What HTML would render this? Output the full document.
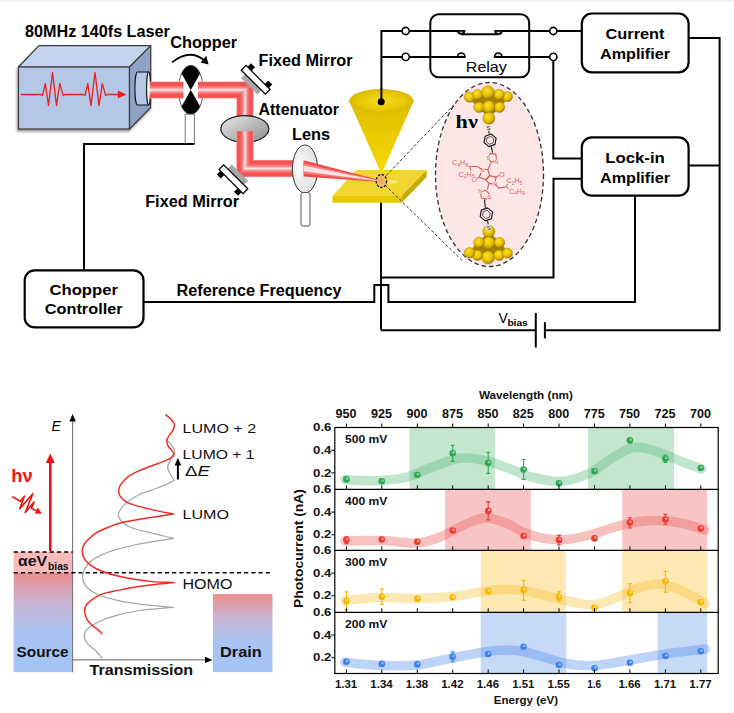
<!DOCTYPE html>
<html><head><meta charset="utf-8"><style>
html,body{margin:0;padding:0;background:#fff;}
svg{display:block;}
</style></head><body>
<svg width="734" height="713" viewBox="0 0 734 713">
<rect x="0" y="0" width="734" height="713" fill="#fff"/>
<rect x="0" y="0" width="734" height="1" fill="#efefef"/><rect x="0" y="1" width="734" height="1.5" fill="#f7f7f7"/>
<defs>
<linearGradient id="gSrc" x1="0" y1="0" x2="0" y2="1">
 <stop offset="0" stop-color="#ec8e8e"/><stop offset="0.3" stop-color="#c9b3d3"/><stop offset="0.6" stop-color="#a9c4f2"/><stop offset="1" stop-color="#a4c2f5"/>
</linearGradient>
<linearGradient id="gDrn" x1="0" y1="0" x2="0" y2="1">
 <stop offset="0" stop-color="#ec8e8e"/><stop offset="0.3" stop-color="#c9b3d3"/><stop offset="0.6" stop-color="#a9c4f2"/><stop offset="1" stop-color="#a4c2f5"/>
</linearGradient>
<linearGradient id="gAtt" x1="0" y1="0" x2="1" y2="1">
 <stop offset="0" stop-color="#e8e8e8"/><stop offset="1" stop-color="#8c8c8c"/>
</linearGradient>
<radialGradient id="gLens" cx="0.3" cy="0.45" r="0.7">
 <stop offset="0" stop-color="#ffffff"/><stop offset="0.45" stop-color="#ececec"/><stop offset="1" stop-color="#e2e2e2"/>
</radialGradient>
<radialGradient id="gTipTop" cx="0.5" cy="0.5" r="0.5">
 <stop offset="0" stop-color="#f6dc2a"/><stop offset="0.7" stop-color="#e8c800"/><stop offset="1" stop-color="#d9b800"/>
</radialGradient>
<linearGradient id="gCone" x1="0" y1="0" x2="0" y2="1">
 <stop offset="0" stop-color="#dcbc00"/><stop offset="1" stop-color="#f8dc00"/>
</linearGradient>
<linearGradient id="gFocus" x1="0" y1="0" x2="0" y2="1">
 <stop offset="0" stop-color="#f44f4f"/><stop offset="0.2" stop-color="#f45454"/><stop offset="0.45" stop-color="#fde3e3"/><stop offset="0.7" stop-color="#f46a6a"/><stop offset="1" stop-color="#f44f4f"/>
</linearGradient>
<radialGradient id="gGold" cx="0.42" cy="0.38" r="0.62">
 <stop offset="0" stop-color="#f8e23a"/><stop offset="0.5" stop-color="#ecc800"/><stop offset="0.8" stop-color="#d2a800"/><stop offset="1" stop-color="#8a6a10"/>
</radialGradient>
<radialGradient id="gGlow" cx="0.45" cy="0.5" r="0.55">
 <stop offset="0" stop-color="#f0a868"/><stop offset="0.6" stop-color="#f2b866"/><stop offset="1" stop-color="#f2cf50"/>
</radialGradient>
<filter id="bblur" x="-20%" y="-20%" width="140%" height="140%"><feGaussianBlur stdDeviation="0.6"/></filter>
<filter id="shadow" x="-10%" y="-10%" width="130%" height="130%"><feGaussianBlur in="SourceAlpha" stdDeviation="1.5"/><feOffset dx="-1.5" dy="1.5"/><feComponentTransfer><feFuncA type="linear" slope="0.45"/></feComponentTransfer><feMerge><feMergeNode/><feMergeNode in="SourceGraphic"/></feMerge></filter>
</defs>
<g filter="url(#shadow)">
<polygon points="18.5,67 39,45.7 150.7,45.7 129.5,67" fill="#c4d4ee" stroke="#3a3a3a" stroke-width="1.2" stroke-linejoin="round"/>
<rect x="18.5" y="67" width="111" height="62" fill="#b4c7e7" stroke="#3a3a3a" stroke-width="1.2"/>
<polygon points="129.5,67 150.7,45.7 150.7,107.5 129.5,129" fill="#8fa3c6" stroke="#3a3a3a" stroke-width="1.2" stroke-linejoin="round"/>
</g>
<path d="M137.5,72 L148.6,72 L148.6,105 L137.5,105 A2.6,16.5 0 0 1 137.5,72 Z" fill="#b4c7e7" stroke="#111" stroke-width="1.1"/>
<ellipse cx="148.6" cy="88.5" rx="2" ry="16.5" fill="#f4f6fb" stroke="#111" stroke-width="1.1"/>
<polyline points="21.00,94.50 40.50,94.50 42.50,95.40 45.30,83.70 48.50,105.50 52.50,72.50 56.50,105.50 59.80,83.30 63.10,95.40 65.00,94.50 83.00,94.50 85.00,95.40 87.80,83.70 91.00,105.50 95.00,72.50 99.00,105.50 102.30,83.30 105.60,95.40 107.50,94.50 119.00,94.50" fill="none" stroke="#ee1c1c" stroke-width="1.3" stroke-linejoin="round"/>
<polygon points="126.4,94.5 117.8,90.6 117.8,98.4" fill="#ee1c1c"/>
<ellipse cx="190.8" cy="89.9" rx="12.4" ry="24.5" fill="#fff" stroke="#444" stroke-width="0.9"/>
<clipPath id="cpCh"><ellipse cx="190.8" cy="89.9" rx="12.4" ry="24.5"/></clipPath>
<g clip-path="url(#cpCh)"><polygon points="190.8,89.9 172.8,57.9 208.8,57.9" fill="#000"/><polygon points="190.8,89.9 172.8,121.9 208.8,121.9" fill="#000"/></g>
<rect x="185.2" y="114.2" width="9.2" height="29.5" fill="#fff" stroke="#777" stroke-width="1"/>
<path d="M172,62.4 Q189.6,48.6 203.5,59.8" fill="none" stroke="#000" stroke-width="1.8"/>
<polygon points="208.6,64.6 200.6,62.6 206.2,55.8" fill="#000"/>
<linearGradient id="bm1" gradientUnits="userSpaceOnUse" x1="150.00" y1="81.50" x2="150.00" y2="98.50"><stop offset="0.00" stop-color="#f89a9a"/><stop offset="0.07" stop-color="#f44f4f"/><stop offset="0.22" stop-color="#f45454"/><stop offset="0.36" stop-color="#f78585"/><stop offset="0.50" stop-color="#fde3e3"/><stop offset="0.64" stop-color="#f78585"/><stop offset="0.78" stop-color="#f45454"/><stop offset="0.93" stop-color="#f44f4f"/><stop offset="1.00" stop-color="#f89a9a"/></linearGradient><polygon points="150.00,98.50 183.50,98.50 183.50,81.50 150.00,81.50" fill="url(#bm1)"/>
<linearGradient id="bm2" gradientUnits="userSpaceOnUse" x1="198.00" y1="81.50" x2="198.00" y2="98.50"><stop offset="0.00" stop-color="#f89a9a"/><stop offset="0.07" stop-color="#f44f4f"/><stop offset="0.22" stop-color="#f45454"/><stop offset="0.36" stop-color="#f78585"/><stop offset="0.50" stop-color="#fde3e3"/><stop offset="0.64" stop-color="#f78585"/><stop offset="0.78" stop-color="#f45454"/><stop offset="0.93" stop-color="#f44f4f"/><stop offset="1.00" stop-color="#f89a9a"/></linearGradient><polygon points="198.00,98.50 253.50,98.50 253.50,81.50 198.00,81.50" fill="url(#bm2)"/><linearGradient id="bm3" gradientUnits="userSpaceOnUse" x1="253.50" y1="90.00" x2="236.50" y2="90.00"><stop offset="0.00" stop-color="#f89a9a"/><stop offset="0.07" stop-color="#f44f4f"/><stop offset="0.22" stop-color="#f45454"/><stop offset="0.36" stop-color="#f78585"/><stop offset="0.50" stop-color="#fde3e3"/><stop offset="0.64" stop-color="#f78585"/><stop offset="0.78" stop-color="#f45454"/><stop offset="0.93" stop-color="#f44f4f"/><stop offset="1.00" stop-color="#f89a9a"/></linearGradient><polygon points="236.50,98.50 236.50,177.00 253.50,177.00 253.50,81.50" fill="url(#bm3)"/><linearGradient id="bm4" gradientUnits="userSpaceOnUse" x1="245.00" y1="160.00" x2="245.00" y2="177.00"><stop offset="0.00" stop-color="#f89a9a"/><stop offset="0.07" stop-color="#f44f4f"/><stop offset="0.22" stop-color="#f45454"/><stop offset="0.36" stop-color="#f78585"/><stop offset="0.50" stop-color="#fde3e3"/><stop offset="0.64" stop-color="#f78585"/><stop offset="0.78" stop-color="#f45454"/><stop offset="0.93" stop-color="#f44f4f"/><stop offset="1.00" stop-color="#f89a9a"/></linearGradient><polygon points="236.50,177.00 293.00,177.00 293.00,160.00 253.50,160.00" fill="url(#bm4)"/>
<ellipse cx="244.8" cy="129" rx="24" ry="13.3" fill="url(#gAtt)" stroke="#222" stroke-width="1.2"/>
<linearGradient id="bm5" gradientUnits="userSpaceOnUse" x1="253.50" y1="131.30" x2="236.50" y2="131.30"><stop offset="0.00" stop-color="#f89a9a"/><stop offset="0.07" stop-color="#f44f4f"/><stop offset="0.22" stop-color="#f45454"/><stop offset="0.36" stop-color="#f78585"/><stop offset="0.50" stop-color="#fde3e3"/><stop offset="0.64" stop-color="#f78585"/><stop offset="0.78" stop-color="#f45454"/><stop offset="0.93" stop-color="#f44f4f"/><stop offset="1.00" stop-color="#f89a9a"/></linearGradient><polygon points="236.50,131.30 236.50,177.00 253.50,177.00 253.50,131.30" fill="url(#bm5)"/><linearGradient id="bm6" gradientUnits="userSpaceOnUse" x1="245.00" y1="160.00" x2="245.00" y2="177.00"><stop offset="0.00" stop-color="#f89a9a"/><stop offset="0.07" stop-color="#f44f4f"/><stop offset="0.22" stop-color="#f45454"/><stop offset="0.36" stop-color="#f78585"/><stop offset="0.50" stop-color="#fde3e3"/><stop offset="0.64" stop-color="#f78585"/><stop offset="0.78" stop-color="#f45454"/><stop offset="0.93" stop-color="#f44f4f"/><stop offset="1.00" stop-color="#f89a9a"/></linearGradient><polygon points="236.50,177.00 293.00,177.00 293.00,160.00 253.50,160.00" fill="url(#bm6)"/>
<g transform="translate(255.70,79.80) rotate(45)"><rect x="-11.5" y="3.4" width="23" height="5.8" fill="#a8a8a8"/><rect x="-15" y="-8.4" width="5.6" height="5.2" fill="#000"/><rect x="9.4" y="-8.4" width="5.6" height="5.2" fill="#000"/><rect x="-17" y="-3.35" width="34" height="6.7" fill="#fff" stroke="#000" stroke-width="1.3"/></g>
<g transform="translate(233.40,179.20) rotate(225)"><rect x="-11.5" y="3.4" width="23" height="5.8" fill="#a8a8a8"/><rect x="-15" y="-8.4" width="5.6" height="5.2" fill="#000"/><rect x="9.4" y="-8.4" width="5.6" height="5.2" fill="#000"/><rect x="-17" y="-3.35" width="34" height="6.7" fill="#fff" stroke="#000" stroke-width="1.3"/></g>
<ellipse cx="305" cy="169" rx="12.6" ry="24" fill="url(#gLens)" stroke="#333" stroke-width="1"/>
<rect x="301" y="192.5" width="9" height="33.5" rx="2" fill="#fff" stroke="#555" stroke-width="1"/>
<polygon points="356,170 426.6,170 401.6,196 332.4,196" fill="#f2d630"/>
<polygon points="332.4,196 401.6,196 401.6,202.7 332.4,202.7" fill="#e8c800"/>
<polygon points="426.6,170 426.6,177 401.6,202.7 401.6,196" fill="#c9a900"/>
<line x1="381" y1="202.7" x2="381" y2="330" stroke="#000" stroke-width="2"/>
<line x1="381.4" y1="30" x2="381.4" y2="101.8" stroke="#000" stroke-width="2"/>
<polygon points="349.2,101 413.6,101 381.4,174" fill="url(#gCone)"/>
<ellipse cx="381.4" cy="101" rx="32.2" ry="12" fill="url(#gTipTop)"/>
<line x1="381.4" y1="88" x2="381.4" y2="101.8" stroke="#000" stroke-width="2"/>
<circle cx="381.2" cy="101.8" r="3.5" fill="#000"/>
<polygon points="303.5,160.2 377.5,179.6 377.5,181.8 303.5,176.6" fill="#f24a4a"/>
<polygon points="303.5,163.2 377.5,180.1 377.5,181.3 303.5,173.6" fill="#f58080" filter="url(#bblur)"/>
<polygon points="303.5,165.6 377.5,180.5 377.5,180.9 303.5,171.2" fill="#fde0e0" filter="url(#bblur)"/>
<ellipse cx="390" cy="181.8" rx="8" ry="1.8" fill="#fff0d0" opacity="0.5" filter="url(#bblur)"/>
<ellipse cx="381.4" cy="181" rx="5.2" ry="6.5" fill="url(#gGlow)" stroke="#111" stroke-width="1.3" stroke-dasharray="2.4,1.5"/>
<line x1="386.3" y1="175.5" x2="463.3" y2="95" stroke="#333" stroke-width="1" stroke-dasharray="3,2"/>
<line x1="385" y1="185" x2="463.3" y2="261.7" stroke="#333" stroke-width="1" stroke-dasharray="3,2"/>
<ellipse cx="489.5" cy="174.5" rx="54" ry="92" fill="#fde6e6" stroke="#333" stroke-width="1.3" stroke-dasharray="4.5,3"/>
<polygon points="469.5,97.0 477.4,94.6 488.0,92.3 499.1,94.6 507.4,96.6 499.5,107.3 488.8,116.3 479.0,107.3" fill="#a07e00" stroke="#a07e00" stroke-width="2" stroke-linejoin="round"/>
<circle cx="469.5" cy="97.0" r="5.3" fill="url(#gGold)" stroke="#b08a00" stroke-width="0.5"/>
<circle cx="477.4" cy="94.6" r="5.2" fill="url(#gGold)" stroke="#b08a00" stroke-width="0.5"/>
<circle cx="507.4" cy="96.6" r="5.1" fill="url(#gGold)" stroke="#b08a00" stroke-width="0.5"/>
<circle cx="499.1" cy="94.6" r="5.3" fill="url(#gGold)" stroke="#b08a00" stroke-width="0.5"/>
<circle cx="488.0" cy="92.3" r="6.5" fill="url(#gGold)" stroke="#b08a00" stroke-width="0.5"/>
<circle cx="479.0" cy="107.3" r="5.3" fill="url(#gGold)" stroke="#b08a00" stroke-width="0.5"/>
<circle cx="499.5" cy="107.3" r="5.2" fill="url(#gGold)" stroke="#b08a00" stroke-width="0.5"/>
<circle cx="488.8" cy="106.9" r="6.2" fill="url(#gGold)" stroke="#b08a00" stroke-width="0.5"/>
<circle cx="488.8" cy="118.3" r="6.0" fill="url(#gGold)" stroke="#b08a00" stroke-width="0.5"/>
<polygon points="469.5,252.8 477.4,255.2 488.0,257.5 499.1,255.2 507.4,253.2 499.5,242.5 488.8,233.5 479.0,242.5" fill="#a07e00" stroke="#a07e00" stroke-width="2" stroke-linejoin="round"/>
<circle cx="488.8" cy="231.5" r="6.0" fill="url(#gGold)" stroke="#b08a00" stroke-width="0.5"/>
<circle cx="488.8" cy="242.9" r="6.2" fill="url(#gGold)" stroke="#b08a00" stroke-width="0.5"/>
<circle cx="499.5" cy="242.5" r="5.2" fill="url(#gGold)" stroke="#b08a00" stroke-width="0.5"/>
<circle cx="479.0" cy="242.5" r="5.3" fill="url(#gGold)" stroke="#b08a00" stroke-width="0.5"/>
<circle cx="488.0" cy="257.5" r="6.5" fill="url(#gGold)" stroke="#b08a00" stroke-width="0.5"/>
<circle cx="499.1" cy="255.2" r="5.3" fill="url(#gGold)" stroke="#b08a00" stroke-width="0.5"/>
<circle cx="507.4" cy="253.2" r="5.1" fill="url(#gGold)" stroke="#b08a00" stroke-width="0.5"/>
<circle cx="477.4" cy="255.2" r="5.2" fill="url(#gGold)" stroke="#b08a00" stroke-width="0.5"/>
<circle cx="469.5" cy="252.8" r="5.3" fill="url(#gGold)" stroke="#b08a00" stroke-width="0.5"/>
<text x="455.6" y="128.4" font-size="19.5" font-weight="bold" font-style="normal" text-anchor="start" fill="#000" font-family='"Liberation Serif", serif' textLength="22.2" lengthAdjust="spacingAndGlyphs" >h&#957;</text>
<text x="488.40" y="130.20" font-size="6.00" font-family='"Liberation Sans", sans-serif' text-anchor="middle" fill="#1a1a1a" stroke="#fde6e6" stroke-width="1.4" paint-order="stroke">S</text>
<polyline points="488.80,130.60 489.10,133.80" fill="none" stroke="#1a1a1a" stroke-width="1.05" stroke-linejoin="round"/>
<polygon points="491.21,134.00 496.11,138.11 495.00,144.41 488.99,146.60 484.09,142.49 485.20,136.19" fill="none" stroke="#1a1a1a" stroke-width="1.15" stroke-linejoin="round"/>
<polygon points="490.79,136.36 493.86,138.93 493.16,142.87 489.41,144.24 486.34,141.67 487.04,137.73" fill="none" stroke="#1a1a1a" stroke-width="0.70" stroke-linejoin="round"/>
<polyline points="491.20,146.60 492.60,152.60" fill="none" stroke="#1a1a1a" stroke-width="1.10" stroke-linejoin="round"/>
<polygon points="490.41,153.34 495.84,154.39 496.51,159.88 491.50,162.21 487.74,158.17" fill="none" stroke="#d2605c" stroke-width="1.10" stroke-linejoin="round"/>
<text x="488.20" y="159.80" font-size="5.40" font-family='"Liberation Sans", sans-serif' text-anchor="middle" fill="#d2605c" stroke="#fde6e6" stroke-width="1.4" paint-order="stroke">S</text>
<text x="496.40" y="164.40" font-size="5.20" font-family='"Liberation Sans", sans-serif' text-anchor="middle" fill="#d2605c" stroke="#fde6e6" stroke-width="1.4" paint-order="stroke">N</text>
<polyline points="491.20,162.40 487.90,169.50" fill="none" stroke="#d2605c" stroke-width="1.10" stroke-linejoin="round"/>
<polygon points="482.20,169.50 487.90,169.50 489.80,175.70 486.00,179.60 479.30,177.20" fill="none" stroke="#d2605c" stroke-width="1.20" stroke-linejoin="round"/>
<polygon points="489.80,175.70 496.00,177.20 495.00,184.30 488.90,183.40 486.00,179.60" fill="none" stroke="#d2605c" stroke-width="1.20" stroke-linejoin="round"/>
<polyline points="479.30,177.20 476.60,179.00" fill="none" stroke="#d2605c" stroke-width="1.10" stroke-linejoin="round"/>
<polyline points="496.00,177.20 499.00,175.20" fill="none" stroke="#d2605c" stroke-width="1.10" stroke-linejoin="round"/>
<text x="474.40" y="181.90" font-size="6.80" font-family='"Liberation Sans", sans-serif' text-anchor="middle" fill="#d2605c" stroke="#fde6e6" stroke-width="1.4" paint-order="stroke">O</text>
<text x="502.00" y="176.80" font-size="6.80" font-family='"Liberation Sans", sans-serif' text-anchor="middle" fill="#d2605c" stroke="#fde6e6" stroke-width="1.4" paint-order="stroke">O</text>
<text x="482.20" y="171.60" font-size="5.40" font-family='"Liberation Sans", sans-serif' text-anchor="middle" fill="#d2605c" stroke="#fde6e6" stroke-width="1.4" paint-order="stroke">N</text>
<text x="495.30" y="186.40" font-size="5.40" font-family='"Liberation Sans", sans-serif' text-anchor="middle" fill="#d2605c" stroke="#fde6e6" stroke-width="1.4" paint-order="stroke">N</text>
<polyline points="482.20,169.50 476.90,166.20 469.80,166.80" fill="none" stroke="#d2605c" stroke-width="1.10" stroke-linejoin="round"/>
<polyline points="469.80,166.80 467.50,164.50" fill="none" stroke="#d2605c" stroke-width="1.00" stroke-linejoin="round"/>
<polyline points="469.80,166.80 471.00,171.00" fill="none" stroke="#d2605c" stroke-width="1.00" stroke-linejoin="round"/>
<text x="452.00" y="165.30" font-size="7.1" font-family='"Liberation Sans", sans-serif' fill="#d2605c" stroke="#fde6e6" stroke-width="1.2" paint-order="stroke">C<tspan font-size="5" dy="1.6">4</tspan><tspan dy="-1.6">H</tspan><tspan font-size="5" dy="1.6">9</tspan></text>
<text x="458.60" y="176.70" font-size="7.1" font-family='"Liberation Sans", sans-serif' fill="#d2605c" stroke="#fde6e6" stroke-width="1.2" paint-order="stroke">C<tspan font-size="5" dy="1.6">2</tspan><tspan dy="-1.6">H</tspan><tspan font-size="5" dy="1.6">5</tspan></text>
<polyline points="495.00,184.30 498.90,188.10 506.50,186.70" fill="none" stroke="#d2605c" stroke-width="1.10" stroke-linejoin="round"/>
<polyline points="506.50,186.70 507.50,183.80" fill="none" stroke="#d2605c" stroke-width="1.00" stroke-linejoin="round"/>
<polyline points="506.50,186.70 509.00,189.50" fill="none" stroke="#d2605c" stroke-width="1.00" stroke-linejoin="round"/>
<text x="506.50" y="183.40" font-size="7.1" font-family='"Liberation Sans", sans-serif' fill="#d2605c" stroke="#fde6e6" stroke-width="1.2" paint-order="stroke">C<tspan font-size="5" dy="1.6">2</tspan><tspan dy="-1.6">H</tspan><tspan font-size="5" dy="1.6">5</tspan></text>
<text x="508.90" y="193.60" font-size="7.1" font-family='"Liberation Sans", sans-serif' fill="#d2605c" stroke="#fde6e6" stroke-width="1.2" paint-order="stroke">C<tspan font-size="5" dy="1.6">4</tspan><tspan dy="-1.6">H</tspan><tspan font-size="5" dy="1.6">9</tspan></text>
<polyline points="488.90,183.40 487.40,189.60" fill="none" stroke="#d2605c" stroke-width="1.10" stroke-linejoin="round"/>
<polygon points="486.79,199.06 481.36,198.01 480.69,192.52 485.70,190.19 489.46,194.23" fill="none" stroke="#d2605c" stroke-width="1.10" stroke-linejoin="round"/>
<text x="480.00" y="193.40" font-size="5.20" font-family='"Liberation Sans", sans-serif' text-anchor="middle" fill="#d2605c" stroke="#fde6e6" stroke-width="1.4" paint-order="stroke">N</text>
<text x="489.40" y="199.20" font-size="5.40" font-family='"Liberation Sans", sans-serif' text-anchor="middle" fill="#d2605c" stroke="#fde6e6" stroke-width="1.4" paint-order="stroke">S</text>
<polyline points="484.60,199.50 485.30,207.80" fill="none" stroke="#1a1a1a" stroke-width="1.10" stroke-linejoin="round"/>
<polygon points="487.55,207.90 492.60,212.14 491.46,218.64 485.25,220.90 480.20,216.66 481.34,210.16" fill="none" stroke="#1a1a1a" stroke-width="1.15" stroke-linejoin="round"/>
<polygon points="487.11,210.36 490.25,213.00 489.54,217.04 485.69,218.44 482.55,215.80 483.26,211.76" fill="none" stroke="#1a1a1a" stroke-width="0.70" stroke-linejoin="round"/>
<polyline points="487.60,221.00 488.20,224.30" fill="none" stroke="#1a1a1a" stroke-width="1.10" stroke-linejoin="round"/>
<text x="488.80" y="229.60" font-size="6.00" font-family='"Liberation Sans", sans-serif' text-anchor="middle" fill="#1a1a1a" stroke="#fde6e6" stroke-width="1.4" paint-order="stroke">S</text>
<rect x="430.3" y="14.2" width="98.9" height="63" rx="8.5" stroke="#000" stroke-width="2" fill="none"/>
<path d="M381.4,31 L464.5,31 M495,31 L582,31" stroke="#000" stroke-width="2" fill="none"/>
<path d="M381.4,56.9 L465,56.9 M494.5,56.9 L553.3,56.9 L553.3,158.5 L582,158.5" stroke="#000" stroke-width="2" fill="none"/>
<path d="M457.6,31 A3.6,3.6 0 0 0 464.6,31 Z" fill="#ddd" stroke="#000" stroke-width="1.6"/>
<path d="M495,31 A3.6,3.6 0 0 0 502.1,31 Z" fill="#ddd" stroke="#000" stroke-width="1.6"/>
<line x1="461" y1="34.3" x2="498.6" y2="34.3" stroke="#000" stroke-width="2"/>
<path d="M457.6,56.9 A3.7,3.9 0 0 1 465,56.9 Z" fill="#ddd" stroke="#000" stroke-width="1.6"/>
<path d="M494.6,56.9 A3.7,3.9 0 0 1 502,56.9 Z" fill="#ddd" stroke="#000" stroke-width="1.6"/>
<circle cx="405.7" cy="31.0" r="3.6" fill="#fff" stroke="#000" stroke-width="1.6"/>
<circle cx="405.7" cy="56.9" r="3.6" fill="#fff" stroke="#000" stroke-width="1.6"/>
<circle cx="553.3" cy="31.0" r="3.6" fill="#fff" stroke="#000" stroke-width="1.6"/>
<circle cx="553.3" cy="56.9" r="3.6" fill="#fff" stroke="#000" stroke-width="1.6"/>
<text x="486.3" y="72.0" font-size="14.5" font-weight="normal" font-style="normal" text-anchor="middle" fill="#000" font-family='"Liberation Sans", sans-serif' textLength="41.0" lengthAdjust="spacingAndGlyphs" >Relay</text>
<rect x="581.8" y="13.5" width="106.8" height="58.8" rx="10" stroke="#000" stroke-width="2.2" fill="#fff"/>
<rect x="581.8" y="137.4" width="106.8" height="58.3" rx="10" stroke="#000" stroke-width="2.2" fill="#fff"/>
<text x="635.0" y="38.6" font-size="15.5" font-weight="bold" font-style="normal" text-anchor="middle" fill="#000" font-family='"Liberation Sans", sans-serif' textLength="59.0" lengthAdjust="spacingAndGlyphs" >Current</text>
<text x="635.0" y="58.8" font-size="15.5" font-weight="bold" font-style="normal" text-anchor="middle" fill="#000" font-family='"Liberation Sans", sans-serif' textLength="70.0" lengthAdjust="spacingAndGlyphs" >Amplifier</text>
<text x="635.0" y="162.7" font-size="15.5" font-weight="bold" font-style="normal" text-anchor="middle" fill="#000" font-family='"Liberation Sans", sans-serif' textLength="59.6" lengthAdjust="spacingAndGlyphs" >Lock-in</text>
<text x="635.0" y="182.5" font-size="15.5" font-weight="bold" font-style="normal" text-anchor="middle" fill="#000" font-family='"Liberation Sans", sans-serif' textLength="70.0" lengthAdjust="spacingAndGlyphs" >Amplifier</text>
<path d="M688.6,38.1 L719.6,38.1 L719.6,330.3 L544.9,330.3" stroke="#000" stroke-width="2" fill="none"/>
<path d="M688.6,165.5 L719.6,165.5" stroke="#000" stroke-width="2" fill="none"/>
<path d="M582,178.7 L553.5,178.7 L553.5,277.4 L381,277.4" stroke="#000" stroke-width="2" fill="none"/>
<path d="M635,195.7 L635,302 L388.4,302 L388.4,285.1 L374.3,285.1 L374.3,302 L143.5,302" stroke="#000" stroke-width="2" fill="none"/>
<path d="M381,330.3 L535.8,330.3" stroke="#000" stroke-width="2" fill="none"/>
<line x1="535.8" y1="313" x2="535.8" y2="347.5" stroke="#000" stroke-width="2"/>
<line x1="544.9" y1="322.2" x2="544.9" y2="338.4" stroke="#000" stroke-width="2"/>
<text x="498.6" y="323.1" font-size="14.0" font-weight="normal" font-style="normal" text-anchor="start" fill="#000" font-family='"Liberation Sans", sans-serif' >V</text>
<text x="507.4" y="325.5" font-size="9.8" font-weight="bold" font-style="normal" text-anchor="start" fill="#000" font-family='"Liberation Sans", sans-serif' textLength="20.4" lengthAdjust="spacingAndGlyphs" >bias</text>
<rect x="24.7" y="270.3" width="118.8" height="57.1" rx="10" stroke="#000" stroke-width="2.2" fill="#fff"/>
<text x="83.7" y="295.0" font-size="15.5" font-weight="bold" font-style="normal" text-anchor="middle" fill="#000" font-family='"Liberation Sans", sans-serif' textLength="68.4" lengthAdjust="spacingAndGlyphs" >Chopper</text>
<text x="83.7" y="314.4" font-size="15.5" font-weight="bold" font-style="normal" text-anchor="middle" fill="#000" font-family='"Liberation Sans", sans-serif' textLength="77.8" lengthAdjust="spacingAndGlyphs" >Controller</text>
<path d="M84,270.3 L84,144 L194.4,144" stroke="#000" stroke-width="2" fill="none"/>
<text x="25.0" y="37.0" font-size="16.0" font-weight="bold" font-style="normal" text-anchor="start" fill="#000" font-family='"Liberation Sans", sans-serif' textLength="144.8" lengthAdjust="spacingAndGlyphs" >80MHz 140fs Laser</text>
<text x="170.2" y="47.7" font-size="16.0" font-weight="bold" font-style="normal" text-anchor="start" fill="#000" font-family='"Liberation Sans", sans-serif' textLength="67.0" lengthAdjust="spacingAndGlyphs" >Chopper</text>
<text x="258.6" y="65.5" font-size="16.0" font-weight="bold" font-style="normal" text-anchor="start" fill="#000" font-family='"Liberation Sans", sans-serif' textLength="93.9" lengthAdjust="spacingAndGlyphs" >Fixed Mirror</text>
<text x="258.6" y="114.6" font-size="16.0" font-weight="bold" font-style="normal" text-anchor="start" fill="#000" font-family='"Liberation Sans", sans-serif' textLength="80.4" lengthAdjust="spacingAndGlyphs" >Attenuator</text>
<text x="292.0" y="139.6" font-size="16.0" font-weight="bold" font-style="normal" text-anchor="start" fill="#000" font-family='"Liberation Sans", sans-serif' textLength="38.2" lengthAdjust="spacingAndGlyphs" >Lens</text>
<text x="145.2" y="206.7" font-size="16.0" font-weight="bold" font-style="normal" text-anchor="start" fill="#000" font-family='"Liberation Sans", sans-serif' textLength="93.9" lengthAdjust="spacingAndGlyphs" >Fixed Mirror</text>
<text x="176.6" y="295.9" font-size="16.0" font-weight="bold" font-style="normal" text-anchor="start" fill="#000" font-family='"Liberation Sans", sans-serif' textLength="164.9" lengthAdjust="spacingAndGlyphs" >Reference Frequency</text>
<rect x="13.7" y="552" width="58.9" height="20.6" fill="#f8baba"/>
<rect x="13.7" y="572.6" width="58.9" height="99.6" fill="url(#gSrc)"/>
<rect x="212.9" y="594.1" width="59.6" height="78" fill="url(#gDrn)"/>
<line x1="72.6" y1="672.2" x2="72.6" y2="419" stroke="#808080" stroke-width="1.2"/>
<polygon points="72.6,414 69.4,421.5 75.8,421.5" fill="#000"/>
<line x1="72.6" y1="659.9" x2="206" y2="659.9" stroke="#808080" stroke-width="1.2"/>
<polygon points="212.5,659.9 205,656.7 205,663.1" fill="#000"/>
<line x1="13.7" y1="552" x2="72.6" y2="552" stroke="#000" stroke-width="1.6" stroke-dasharray="4.2,3"/>
<line x1="13.7" y1="572.7" x2="270" y2="572.7" stroke="#000" stroke-width="1.6" stroke-dasharray="4.2,3"/>
<path d="M165.40,438.90 C166.87,440.17 168.67,441.38 169.80,442.70 C170.73,443.80 171.13,444.99 171.90,446.10 C172.69,447.25 174.17,448.34 174.50,449.50 C174.78,450.48 174.54,451.47 174.20,452.50 C173.77,453.78 172.52,455.07 171.80,456.50 C171.04,458.02 170.48,459.73 169.80,461.40 C169.08,463.16 167.66,464.91 167.60,466.80 C167.54,468.86 168.87,471.36 169.80,473.30 C170.64,475.05 171.98,476.67 172.80,478.00 C173.39,478.96 173.80,479.67 174.30,480.50 C171.53,481.87 169.15,483.23 166.00,484.60 C162.04,486.33 156.82,488.10 152.30,489.80 C147.89,491.46 143.06,492.90 139.20,494.70 C135.94,496.22 133.11,497.78 130.50,499.60 C128.09,501.28 125.85,503.17 124.00,505.10 C122.34,506.83 120.74,508.62 119.80,510.50 C118.97,512.17 118.15,513.92 118.40,515.70 C118.69,517.81 120.44,520.33 122.30,522.20 C124.45,524.37 127.42,525.95 131.00,527.50 C135.94,529.64 143.05,530.99 149.70,532.70 C157.21,534.63 165.77,536.50 173.80,538.40 C167.67,539.33 161.84,540.10 155.40,541.20 C148.22,542.43 139.70,543.97 132.70,545.50 C126.60,546.83 120.97,548.10 115.70,549.70 C110.98,551.14 106.62,552.61 102.50,554.50 C98.62,556.28 94.66,558.06 91.60,560.60 C88.72,562.99 86.03,566.08 84.50,569.10 C83.14,571.79 82.19,574.80 82.40,577.60 C82.61,580.47 84.38,583.93 85.90,586.10 C87.11,587.82 88.46,588.70 90.20,590.00 C92.45,591.67 95.01,593.49 98.50,595.00 C103.61,597.21 111.69,599.07 118.50,600.60 C125.45,602.16 132.69,603.25 139.80,604.20 C146.86,605.14 154.82,605.75 161.00,606.30 C165.80,606.73 169.53,606.97 173.80,607.30 C169.53,607.67 165.80,607.96 161.00,608.40 C154.82,608.97 146.85,609.44 139.80,610.50 C132.68,611.57 125.15,613.02 118.50,614.80 C112.46,616.42 106.50,618.29 101.50,620.50 C97.25,622.38 92.99,624.80 90.20,626.80 C88.33,628.14 86.89,629.18 85.90,630.70 C84.97,632.14 84.32,633.84 84.30,635.60 C84.28,637.63 85.14,640.29 86.30,642.20 C87.47,644.13 89.55,645.49 91.30,647.10 C93.11,648.76 95.21,650.16 97.00,652.00 C98.89,653.94 100.53,656.33 102.30,658.50" fill="none" stroke="#a6a6a6" stroke-width="1.25" stroke-linejoin="miter"/>
<path d="M165.40,414.40 C166.87,415.67 168.43,416.85 169.80,418.20 C171.16,419.55 172.87,421.01 173.60,422.50 C174.20,423.73 174.39,425.04 174.30,426.30 C174.21,427.60 173.63,428.95 173.00,430.20 C172.33,431.53 171.18,432.68 170.30,434.00 C169.38,435.38 168.15,436.80 167.60,438.30 C167.09,439.71 166.83,441.26 167.00,442.70 C167.18,444.17 167.97,445.83 168.70,447.00 C169.32,447.98 170.12,448.46 170.90,449.40 C171.90,450.60 173.03,452.27 174.10,453.70 C173.93,454.43 174.06,455.21 173.60,455.90 C172.94,456.89 171.39,457.71 169.80,458.60 C167.52,459.88 164.18,461.13 161.00,462.40 C157.33,463.86 152.88,465.30 149.00,466.80 C145.29,468.23 141.68,469.55 138.20,471.20 C134.78,472.82 130.75,474.87 128.30,476.60 C126.65,477.76 125.74,478.70 124.50,480.00 C123.10,481.46 121.37,483.16 120.40,485.00 C119.46,486.80 118.71,488.97 118.70,490.90 C118.69,492.76 119.16,494.71 120.20,496.40 C121.44,498.41 123.80,500.32 126.20,501.80 C128.94,503.49 132.47,504.47 136.00,505.60 C139.99,506.88 144.75,507.88 149.00,508.90 C153.07,509.88 156.90,510.80 161.00,511.60 C165.26,512.44 169.73,513.07 174.10,513.80 C169.73,514.53 165.62,515.26 161.00,516.00 C155.82,516.83 150.46,517.50 144.50,518.50 C137.41,519.69 127.82,521.08 121.30,522.80 C116.38,524.10 112.76,525.52 108.60,527.20 C104.42,528.89 99.86,530.69 96.30,532.90 C93.19,534.83 90.44,537.07 88.20,539.40 C86.20,541.47 84.28,543.76 83.30,546.00 C82.47,547.90 82.08,549.76 82.20,551.80 C82.33,554.13 83.19,557.05 84.50,559.20 C85.83,561.39 87.91,563.06 90.20,564.80 C92.94,566.88 96.33,568.83 100.10,570.50 C104.62,572.50 110.35,574.10 115.70,575.50 C121.21,576.95 126.80,578.01 132.70,579.00 C139.03,580.07 145.71,581.00 152.50,581.60 C159.63,582.23 167.17,582.27 174.50,582.60 C167.17,583.30 159.63,583.86 152.50,584.70 C145.72,585.50 138.90,586.45 132.70,587.50 C127.15,588.44 121.54,589.71 117.00,590.60 C113.53,591.28 110.70,591.66 107.80,592.40 C105.13,593.08 102.37,593.85 100.20,594.80 C98.43,595.57 97.12,596.46 95.60,597.40 C94.05,598.36 92.51,599.25 91.00,600.50 C89.27,601.92 86.93,603.56 85.90,605.60 C84.87,607.63 84.58,610.36 84.80,612.70 C85.02,615.09 86.00,617.62 87.30,619.80 C88.68,622.11 91.14,624.46 93.00,626.10 C94.46,627.39 95.86,627.91 97.30,629.10 C98.96,630.48 100.63,632.37 102.30,634.00" fill="none" stroke="#ee2a22" stroke-width="1.45" stroke-linejoin="miter"/>
<line x1="50.3" y1="551" x2="50.3" y2="461" stroke="#ee1111" stroke-width="2.6"/>
<polygon points="50.3,453.5 45.8,463 54.8,463" fill="#ee1111"/>
<text x="11.2" y="481.9" font-size="18.5" font-weight="bold" font-style="normal" text-anchor="start" fill="#ee1111" font-family='"Liberation Sans", sans-serif' textLength="21.4" lengthAdjust="spacingAndGlyphs" >h&#957;</text>
<polyline points="12.20,496.60 20.20,501.30 24.40,496.20 19.70,508.80 32.80,493.70 25.20,512.60 34.00,502.10 31.50,508.40 37.50,511.20" fill="none" stroke="#ee1111" stroke-width="1.6" stroke-linejoin="round"/>
<polygon points="41.9,513.8 34.9,513.4 37.8,507.6" fill="#ee1111"/>
<text x="51.5" y="430.6" font-size="14.0" font-weight="normal" font-style="italic" text-anchor="start" fill="#000" font-family='"Liberation Sans", sans-serif' >E</text>
<text x="182.6" y="432.7" font-size="13.5" font-weight="normal" font-style="normal" text-anchor="start" fill="#111" font-family='"Liberation Sans", sans-serif' textLength="73.5" lengthAdjust="spacingAndGlyphs" >LUMO + 2</text>
<text x="182.6" y="458.8" font-size="13.5" font-weight="normal" font-style="normal" text-anchor="start" fill="#111" font-family='"Liberation Sans", sans-serif' textLength="72.0" lengthAdjust="spacingAndGlyphs" >LUMO + 1</text>
<text x="185.0" y="475.6" font-size="14.0" font-weight="normal" font-style="normal" text-anchor="start" fill="#111" font-family='"Liberation Sans", sans-serif' textLength="25.0" lengthAdjust="spacingAndGlyphs" >&#916;<tspan font-style="italic">E</tspan></text>
<text x="182.6" y="519.0" font-size="13.5" font-weight="normal" font-style="normal" text-anchor="start" fill="#111" font-family='"Liberation Sans", sans-serif' textLength="46.4" lengthAdjust="spacingAndGlyphs" >LUMO</text>
<text x="182.4" y="588.8" font-size="14.0" font-weight="normal" font-style="normal" text-anchor="start" fill="#111" font-family='"Liberation Sans", sans-serif' textLength="50.0" lengthAdjust="spacingAndGlyphs" >HOMO</text>
<line x1="177.9" y1="479.5" x2="177.9" y2="464" stroke="#000" stroke-width="2"/>
<polygon points="177.9,457.8 174.6,465.5 181.2,465.5" fill="#000"/>
<text x="18.0" y="566.3" font-size="14.5" font-weight="bold" font-style="normal" text-anchor="start" fill="#111" font-family='"Liberation Sans", sans-serif' textLength="29.2" lengthAdjust="spacingAndGlyphs" >&#945;eV</text>
<text x="48.0" y="569.6" font-size="10.8" font-weight="bold" font-style="normal" text-anchor="start" fill="#111" font-family='"Liberation Sans", sans-serif' textLength="20.6" lengthAdjust="spacingAndGlyphs" >bias</text>
<text x="16.6" y="656.8" font-size="13.8" font-weight="bold" font-style="normal" text-anchor="start" fill="#111" font-family='"Liberation Sans", sans-serif' textLength="52.0" lengthAdjust="spacingAndGlyphs" >Source</text>
<text x="220.0" y="656.6" font-size="13.8" font-weight="bold" font-style="normal" text-anchor="start" fill="#111" font-family='"Liberation Sans", sans-serif' textLength="41.8" lengthAdjust="spacingAndGlyphs" >Drain</text>
<text x="89.5" y="675.3" font-size="13.8" font-weight="bold" font-style="normal" text-anchor="start" fill="#111" font-family='"Liberation Sans", sans-serif' textLength="103.7" lengthAdjust="spacingAndGlyphs" >Transmission</text>
<rect x="409.6" y="427.5" width="85.3" height="61.9" fill="#c3e6cc"/>
<rect x="588.1" y="427.5" width="85.9" height="61.9" fill="#c3e6cc"/>
<rect x="445.0" y="489.4" width="85.9" height="61.0" fill="#f8c5c5"/>
<rect x="622.2" y="489.4" width="85.0" height="61.0" fill="#f8c5c5"/>
<rect x="480.7" y="550.4" width="85.1" height="61.9" fill="#fde7b2"/>
<rect x="622.2" y="550.4" width="85.0" height="61.9" fill="#fde7b2"/>
<rect x="480.7" y="612.3" width="85.6" height="61.2" fill="#c6d9f7"/>
<rect x="657.6" y="612.3" width="49.6" height="61.2" fill="#c6d9f7"/>
<path d="M345.00,479.50 C347.50,479.67 353.83,480.33 360.00,480.50 C366.17,480.67 374.50,481.00 382.00,480.50 C389.50,480.00 397.00,479.58 405.00,477.50 C413.00,475.42 421.17,471.17 430.00,468.00 C438.83,464.83 449.67,459.92 458.00,458.50 C466.33,457.08 472.17,458.08 480.00,459.50 C487.83,460.92 496.67,464.17 505.00,467.00 C513.33,469.83 520.75,474.08 530.00,476.50 C539.25,478.92 550.50,482.08 560.50,481.50 C570.50,480.92 581.42,476.92 590.00,473.00 C598.58,469.08 604.67,462.25 612.00,458.00 C619.33,453.75 626.83,448.67 634.00,447.50 C641.17,446.33 647.33,448.75 655.00,451.00 C662.67,453.25 672.25,458.00 680.00,461.00 C687.75,464.00 697.92,467.67 701.50,469.00" fill="none" stroke="#5fbd87" stroke-opacity="0.4" stroke-width="9.5" stroke-linecap="round" stroke-linejoin="round"/>
<path d="M345.00,541.00 C347.50,540.92 353.83,540.58 360.00,540.50 C366.17,540.42 375.33,540.25 382.00,540.50 C388.67,540.75 394.00,541.58 400.00,542.00 C406.00,542.42 411.33,543.83 418.00,543.00 C424.67,542.17 432.67,539.83 440.00,537.00 C447.33,534.17 454.67,529.17 462.00,526.00 C469.33,522.83 476.83,518.58 484.00,518.00 C491.17,517.42 498.17,520.00 505.00,522.50 C511.83,525.00 518.33,530.33 525.00,533.00 C531.67,535.67 538.17,537.42 545.00,538.50 C551.83,539.58 558.50,540.08 566.00,539.50 C573.50,538.92 581.83,537.08 590.00,535.00 C598.17,532.92 606.67,529.25 615.00,527.00 C623.33,524.75 632.50,522.58 640.00,521.50 C647.50,520.42 652.83,520.17 660.00,520.50 C667.17,520.83 675.50,521.92 683.00,523.50 C690.50,525.08 701.33,528.92 705.00,530.00" fill="none" stroke="#e86460" stroke-opacity="0.4" stroke-width="9.5" stroke-linecap="round" stroke-linejoin="round"/>
<path d="M345.00,601.00 C347.50,600.67 353.83,599.58 360.00,599.00 C366.17,598.42 372.50,597.58 382.00,597.50 C391.50,597.42 405.33,598.67 417.00,598.50 C428.67,598.33 441.50,597.58 452.00,596.50 C462.50,595.42 472.00,593.17 480.00,592.00 C488.00,590.83 492.83,589.75 500.00,589.50 C507.17,589.25 515.50,589.50 523.00,590.50 C530.50,591.50 537.17,593.67 545.00,595.50 C552.83,597.33 561.83,599.92 570.00,601.50 C578.17,603.08 586.50,605.58 594.00,605.00 C601.50,604.42 607.83,600.75 615.00,598.00 C622.17,595.25 629.90,590.83 637.00,588.50 C644.10,586.17 651.27,584.08 657.60,584.00 C663.93,583.92 669.27,586.00 675.00,588.00 C680.73,590.00 686.95,593.42 692.00,596.00 C697.05,598.58 703.08,602.25 705.30,603.50" fill="none" stroke="#f8c63c" stroke-opacity="0.4" stroke-width="9.5" stroke-linecap="round" stroke-linejoin="round"/>
<path d="M345.00,662.00 C347.50,662.33 353.83,663.42 360.00,664.00 C366.17,664.58 372.50,665.33 382.00,665.50 C391.50,665.67 405.33,666.25 417.00,665.00 C428.67,663.75 440.17,660.25 452.00,658.00 C463.83,655.75 479.17,652.83 488.00,651.50 C496.83,650.17 499.17,650.00 505.00,650.00 C510.83,650.00 516.33,650.25 523.00,651.50 C529.67,652.75 537.83,655.50 545.00,657.50 C552.17,659.50 557.83,662.17 566.00,663.50 C574.17,664.83 583.33,666.08 594.00,665.50 C604.67,664.92 618.17,661.92 630.00,660.00 C641.83,658.08 652.45,655.83 665.00,654.00 C677.55,652.17 698.58,649.83 705.30,649.00" fill="none" stroke="#5b91ea" stroke-opacity="0.4" stroke-width="9.5" stroke-linecap="round" stroke-linejoin="round"/>
<circle cx="346.4" cy="479.4" r="3.3" fill="#2ea84f"/>
<circle cx="347.2" cy="478.6" r="1.3" fill="#fff" fill-opacity="0.45"/>
<circle cx="381.8" cy="481.3" r="3.3" fill="#2ea84f"/>
<circle cx="382.6" cy="480.5" r="1.3" fill="#fff" fill-opacity="0.45"/>
<circle cx="417.3" cy="475.0" r="3.3" fill="#2ea84f"/>
<circle cx="418.1" cy="474.2" r="1.3" fill="#fff" fill-opacity="0.45"/>
<path d="M452.7,445.3 L452.7,461.4 M450.7,445.3 L454.7,445.3 M450.7,461.4 L454.7,461.4" stroke="#2ea84f" stroke-width="1.1" fill="none"/>
<circle cx="452.7" cy="453.2" r="3.3" fill="#2ea84f"/>
<circle cx="453.5" cy="452.4" r="1.3" fill="#fff" fill-opacity="0.45"/>
<path d="M488.2,452.2 L488.2,473.4 M486.2,452.2 L490.2,452.2 M486.2,473.4 L490.2,473.4" stroke="#2ea84f" stroke-width="1.1" fill="none"/>
<circle cx="488.2" cy="463.0" r="3.3" fill="#2ea84f"/>
<circle cx="489.0" cy="462.2" r="1.3" fill="#fff" fill-opacity="0.45"/>
<path d="M523.6,459.5 L523.6,479.4 M521.6,459.5 L525.6,459.5 M521.6,479.4 L525.6,479.4" stroke="#2ea84f" stroke-width="1.1" fill="none"/>
<circle cx="523.6" cy="469.6" r="3.3" fill="#2ea84f"/>
<circle cx="524.4" cy="468.8" r="1.3" fill="#fff" fill-opacity="0.45"/>
<circle cx="559.0" cy="483.2" r="3.3" fill="#2ea84f"/>
<circle cx="559.8" cy="482.4" r="1.3" fill="#fff" fill-opacity="0.45"/>
<circle cx="594.5" cy="471.2" r="3.3" fill="#2ea84f"/>
<circle cx="595.3" cy="470.4" r="1.3" fill="#fff" fill-opacity="0.45"/>
<circle cx="629.9" cy="440.4" r="3.3" fill="#2ea84f"/>
<circle cx="630.7" cy="439.6" r="1.3" fill="#fff" fill-opacity="0.45"/>
<path d="M665.4,455.0 L665.4,462.5 M663.4,455.0 L667.4,455.0 M663.4,462.5 L667.4,462.5" stroke="#2ea84f" stroke-width="1.1" fill="none"/>
<circle cx="665.4" cy="458.7" r="3.3" fill="#2ea84f"/>
<circle cx="666.2" cy="457.9" r="1.3" fill="#fff" fill-opacity="0.45"/>
<circle cx="700.8" cy="468.0" r="3.3" fill="#2ea84f"/>
<circle cx="701.6" cy="467.2" r="1.3" fill="#fff" fill-opacity="0.45"/>
<path d="M346.4,536.8 L346.4,543.6 M344.4,536.8 L348.4,536.8 M344.4,543.6 L348.4,543.6" stroke="#ec3b33" stroke-width="1.1" fill="none"/>
<circle cx="346.4" cy="540.0" r="3.3" fill="#ec3b33"/>
<circle cx="347.2" cy="539.2" r="1.3" fill="#fff" fill-opacity="0.45"/>
<circle cx="381.8" cy="539.5" r="3.3" fill="#ec3b33"/>
<circle cx="382.6" cy="538.7" r="1.3" fill="#fff" fill-opacity="0.45"/>
<circle cx="417.3" cy="541.7" r="3.3" fill="#ec3b33"/>
<circle cx="418.1" cy="540.9" r="1.3" fill="#fff" fill-opacity="0.45"/>
<circle cx="452.7" cy="530.5" r="3.3" fill="#ec3b33"/>
<circle cx="453.5" cy="529.7" r="1.3" fill="#fff" fill-opacity="0.45"/>
<path d="M488.2,501.9 L488.2,519.9 M486.2,501.9 L490.2,501.9 M486.2,519.9 L490.2,519.9" stroke="#ec3b33" stroke-width="1.1" fill="none"/>
<circle cx="488.2" cy="510.9" r="3.3" fill="#ec3b33"/>
<circle cx="489.0" cy="510.1" r="1.3" fill="#fff" fill-opacity="0.45"/>
<circle cx="523.6" cy="536.0" r="3.3" fill="#ec3b33"/>
<circle cx="524.4" cy="535.2" r="1.3" fill="#fff" fill-opacity="0.45"/>
<path d="M559.0,535.4 L559.0,545.0 M557.0,535.4 L561.0,535.4 M557.0,545.0 L561.0,545.0" stroke="#ec3b33" stroke-width="1.1" fill="none"/>
<circle cx="559.0" cy="540.0" r="3.3" fill="#ec3b33"/>
<circle cx="559.8" cy="539.2" r="1.3" fill="#fff" fill-opacity="0.45"/>
<circle cx="594.5" cy="538.4" r="3.3" fill="#ec3b33"/>
<circle cx="595.3" cy="537.6" r="1.3" fill="#fff" fill-opacity="0.45"/>
<path d="M629.9,517.7 L629.9,528.0 M627.9,517.7 L631.9,517.7 M627.9,528.0 L631.9,528.0" stroke="#ec3b33" stroke-width="1.1" fill="none"/>
<circle cx="629.9" cy="522.6" r="3.3" fill="#ec3b33"/>
<circle cx="630.7" cy="521.8" r="1.3" fill="#fff" fill-opacity="0.45"/>
<path d="M665.4,514.4 L665.4,524.5 M663.4,514.4 L667.4,514.4 M663.4,524.5 L667.4,524.5" stroke="#ec3b33" stroke-width="1.1" fill="none"/>
<circle cx="665.4" cy="519.6" r="3.3" fill="#ec3b33"/>
<circle cx="666.2" cy="518.8" r="1.3" fill="#fff" fill-opacity="0.45"/>
<circle cx="700.8" cy="528.6" r="3.3" fill="#ec3b33"/>
<circle cx="701.6" cy="527.8" r="1.3" fill="#fff" fill-opacity="0.45"/>
<path d="M346.4,591.9 L346.4,609.9 M344.4,591.9 L348.4,591.9 M344.4,609.9 L348.4,609.9" stroke="#f6b800" stroke-width="1.1" fill="none"/>
<circle cx="346.4" cy="600.9" r="3.3" fill="#f6b800"/>
<circle cx="347.2" cy="600.1" r="1.3" fill="#fff" fill-opacity="0.45"/>
<path d="M381.8,589.1 L381.8,604.4 M379.8,589.1 L383.8,589.1 M379.8,604.4 L383.8,604.4" stroke="#f6b800" stroke-width="1.1" fill="none"/>
<circle cx="381.8" cy="596.8" r="3.3" fill="#f6b800"/>
<circle cx="382.6" cy="596.0" r="1.3" fill="#fff" fill-opacity="0.45"/>
<circle cx="417.3" cy="598.7" r="3.3" fill="#f6b800"/>
<circle cx="418.1" cy="597.9" r="1.3" fill="#fff" fill-opacity="0.45"/>
<circle cx="452.7" cy="597.3" r="3.3" fill="#f6b800"/>
<circle cx="453.5" cy="596.5" r="1.3" fill="#fff" fill-opacity="0.45"/>
<circle cx="488.2" cy="591.3" r="3.3" fill="#f6b800"/>
<circle cx="489.0" cy="590.5" r="1.3" fill="#fff" fill-opacity="0.45"/>
<path d="M523.6,580.4 L523.6,600.3 M521.6,580.4 L525.6,580.4 M521.6,600.3 L525.6,600.3" stroke="#f6b800" stroke-width="1.1" fill="none"/>
<circle cx="523.6" cy="590.0" r="3.3" fill="#f6b800"/>
<circle cx="524.4" cy="589.2" r="1.3" fill="#fff" fill-opacity="0.45"/>
<path d="M559.0,591.9 L559.0,600.9 M557.0,591.9 L561.0,591.9 M557.0,600.9 L561.0,600.9" stroke="#f6b800" stroke-width="1.1" fill="none"/>
<circle cx="559.0" cy="596.8" r="3.3" fill="#f6b800"/>
<circle cx="559.8" cy="596.0" r="1.3" fill="#fff" fill-opacity="0.45"/>
<circle cx="594.5" cy="607.7" r="3.3" fill="#f6b800"/>
<circle cx="595.3" cy="606.9" r="1.3" fill="#fff" fill-opacity="0.45"/>
<path d="M629.9,583.7 L629.9,602.8 M627.9,583.7 L631.9,583.7 M627.9,602.8 L631.9,602.8" stroke="#f6b800" stroke-width="1.1" fill="none"/>
<circle cx="629.9" cy="593.2" r="3.3" fill="#f6b800"/>
<circle cx="630.7" cy="592.4" r="1.3" fill="#fff" fill-opacity="0.45"/>
<path d="M665.4,571.4 L665.4,592.1 M663.4,571.4 L667.4,571.4 M663.4,592.1 L667.4,592.1" stroke="#f6b800" stroke-width="1.1" fill="none"/>
<circle cx="665.4" cy="581.2" r="3.3" fill="#f6b800"/>
<circle cx="666.2" cy="580.4" r="1.3" fill="#fff" fill-opacity="0.45"/>
<circle cx="700.8" cy="602.2" r="3.3" fill="#f6b800"/>
<circle cx="701.6" cy="601.4" r="1.3" fill="#fff" fill-opacity="0.45"/>
<circle cx="346.4" cy="661.7" r="3.3" fill="#3b82e6"/>
<circle cx="347.2" cy="660.9" r="1.3" fill="#fff" fill-opacity="0.45"/>
<circle cx="381.8" cy="663.9" r="3.3" fill="#3b82e6"/>
<circle cx="382.6" cy="663.1" r="1.3" fill="#fff" fill-opacity="0.45"/>
<circle cx="417.3" cy="664.4" r="3.3" fill="#3b82e6"/>
<circle cx="418.1" cy="663.6" r="1.3" fill="#fff" fill-opacity="0.45"/>
<path d="M452.7,651.9 L452.7,661.7 M450.7,651.9 L454.7,651.9 M450.7,661.7 L454.7,661.7" stroke="#3b82e6" stroke-width="1.1" fill="none"/>
<circle cx="452.7" cy="656.8" r="3.3" fill="#3b82e6"/>
<circle cx="453.5" cy="656.0" r="1.3" fill="#fff" fill-opacity="0.45"/>
<circle cx="488.2" cy="654.0" r="3.3" fill="#3b82e6"/>
<circle cx="489.0" cy="653.2" r="1.3" fill="#fff" fill-opacity="0.45"/>
<circle cx="523.6" cy="646.7" r="3.3" fill="#3b82e6"/>
<circle cx="524.4" cy="645.9" r="1.3" fill="#fff" fill-opacity="0.45"/>
<circle cx="559.0" cy="665.0" r="3.3" fill="#3b82e6"/>
<circle cx="559.8" cy="664.2" r="1.3" fill="#fff" fill-opacity="0.45"/>
<circle cx="594.5" cy="668.2" r="3.3" fill="#3b82e6"/>
<circle cx="595.3" cy="667.4" r="1.3" fill="#fff" fill-opacity="0.45"/>
<circle cx="629.9" cy="662.8" r="3.3" fill="#3b82e6"/>
<circle cx="630.7" cy="662.0" r="1.3" fill="#fff" fill-opacity="0.45"/>
<circle cx="665.4" cy="656.0" r="3.3" fill="#3b82e6"/>
<circle cx="666.2" cy="655.2" r="1.3" fill="#fff" fill-opacity="0.45"/>
<circle cx="700.8" cy="651.3" r="3.3" fill="#3b82e6"/>
<circle cx="701.6" cy="650.5" r="1.3" fill="#fff" fill-opacity="0.45"/>
<rect x="334.8" y="427.5" width="383.4" height="246.0" fill="none" stroke="#000" stroke-width="1.2"/>
<line x1="334.8" y1="489.4" x2="718.2" y2="489.4" stroke="#000" stroke-width="1.2"/>
<line x1="334.8" y1="550.4" x2="718.2" y2="550.4" stroke="#000" stroke-width="1.2"/>
<line x1="334.8" y1="612.3" x2="718.2" y2="612.3" stroke="#000" stroke-width="1.2"/>
<path d="M346.4,423.5 L346.4,427.5 M346.4,485.4 L346.4,489.4 M346.4,546.4 L346.4,550.4 M346.4,608.3 L346.4,612.3 M346.4,669.5 L346.4,673.5 M381.8,423.5 L381.8,427.5 M381.8,485.4 L381.8,489.4 M381.8,546.4 L381.8,550.4 M381.8,608.3 L381.8,612.3 M381.8,669.5 L381.8,673.5 M417.3,423.5 L417.3,427.5 M417.3,485.4 L417.3,489.4 M417.3,546.4 L417.3,550.4 M417.3,608.3 L417.3,612.3 M417.3,669.5 L417.3,673.5 M452.7,423.5 L452.7,427.5 M452.7,485.4 L452.7,489.4 M452.7,546.4 L452.7,550.4 M452.7,608.3 L452.7,612.3 M452.7,669.5 L452.7,673.5 M488.2,423.5 L488.2,427.5 M488.2,485.4 L488.2,489.4 M488.2,546.4 L488.2,550.4 M488.2,608.3 L488.2,612.3 M488.2,669.5 L488.2,673.5 M523.6,423.5 L523.6,427.5 M523.6,485.4 L523.6,489.4 M523.6,546.4 L523.6,550.4 M523.6,608.3 L523.6,612.3 M523.6,669.5 L523.6,673.5 M559.0,423.5 L559.0,427.5 M559.0,485.4 L559.0,489.4 M559.0,546.4 L559.0,550.4 M559.0,608.3 L559.0,612.3 M559.0,669.5 L559.0,673.5 M594.5,423.5 L594.5,427.5 M594.5,485.4 L594.5,489.4 M594.5,546.4 L594.5,550.4 M594.5,608.3 L594.5,612.3 M594.5,669.5 L594.5,673.5 M629.9,423.5 L629.9,427.5 M629.9,485.4 L629.9,489.4 M629.9,546.4 L629.9,550.4 M629.9,608.3 L629.9,612.3 M629.9,669.5 L629.9,673.5 M665.4,423.5 L665.4,427.5 M665.4,485.4 L665.4,489.4 M665.4,546.4 L665.4,550.4 M665.4,608.3 L665.4,612.3 M665.4,669.5 L665.4,673.5 M700.8,423.5 L700.8,427.5 M700.8,485.4 L700.8,489.4 M700.8,546.4 L700.8,550.4 M700.8,608.3 L700.8,612.3 M700.8,669.5 L700.8,673.5 M331.3,450.2 L334.8,450.2 M331.3,472.9 L334.8,472.9 M331.3,512.1 L334.8,512.1 M331.3,534.8 L334.8,534.8 M331.3,573.1 L334.8,573.1 M331.3,595.8 L334.8,595.8 M331.3,635.0 L334.8,635.0 M331.3,657.7 L334.8,657.7" stroke="#000" stroke-width="1" fill="none"/>
<text x="346.1" y="418.2" font-size="12.0" font-weight="bold" font-style="normal" text-anchor="middle" fill="#111" font-family='"Liberation Sans", sans-serif' textLength="21.0" lengthAdjust="spacingAndGlyphs" >950</text>
<text x="346.1" y="687.9" font-size="11.6" font-weight="bold" font-style="normal" text-anchor="middle" fill="#111" font-family='"Liberation Sans", sans-serif' textLength="22.3" lengthAdjust="spacingAndGlyphs" >1.31</text>
<text x="381.5" y="418.2" font-size="12.0" font-weight="bold" font-style="normal" text-anchor="middle" fill="#111" font-family='"Liberation Sans", sans-serif' textLength="21.0" lengthAdjust="spacingAndGlyphs" >925</text>
<text x="381.5" y="687.9" font-size="11.6" font-weight="bold" font-style="normal" text-anchor="middle" fill="#111" font-family='"Liberation Sans", sans-serif' textLength="22.3" lengthAdjust="spacingAndGlyphs" >1.34</text>
<text x="417.0" y="418.2" font-size="12.0" font-weight="bold" font-style="normal" text-anchor="middle" fill="#111" font-family='"Liberation Sans", sans-serif' textLength="21.0" lengthAdjust="spacingAndGlyphs" >900</text>
<text x="417.0" y="687.9" font-size="11.6" font-weight="bold" font-style="normal" text-anchor="middle" fill="#111" font-family='"Liberation Sans", sans-serif' textLength="22.3" lengthAdjust="spacingAndGlyphs" >1.38</text>
<text x="452.4" y="418.2" font-size="12.0" font-weight="bold" font-style="normal" text-anchor="middle" fill="#111" font-family='"Liberation Sans", sans-serif' textLength="21.0" lengthAdjust="spacingAndGlyphs" >875</text>
<text x="452.4" y="687.9" font-size="11.6" font-weight="bold" font-style="normal" text-anchor="middle" fill="#111" font-family='"Liberation Sans", sans-serif' textLength="22.3" lengthAdjust="spacingAndGlyphs" >1.42</text>
<text x="487.9" y="418.2" font-size="12.0" font-weight="bold" font-style="normal" text-anchor="middle" fill="#111" font-family='"Liberation Sans", sans-serif' textLength="21.0" lengthAdjust="spacingAndGlyphs" >850</text>
<text x="487.9" y="687.9" font-size="11.6" font-weight="bold" font-style="normal" text-anchor="middle" fill="#111" font-family='"Liberation Sans", sans-serif' textLength="22.3" lengthAdjust="spacingAndGlyphs" >1.46</text>
<text x="523.3" y="418.2" font-size="12.0" font-weight="bold" font-style="normal" text-anchor="middle" fill="#111" font-family='"Liberation Sans", sans-serif' textLength="21.0" lengthAdjust="spacingAndGlyphs" >825</text>
<text x="523.3" y="687.9" font-size="11.6" font-weight="bold" font-style="normal" text-anchor="middle" fill="#111" font-family='"Liberation Sans", sans-serif' textLength="22.3" lengthAdjust="spacingAndGlyphs" >1.51</text>
<text x="558.7" y="418.2" font-size="12.0" font-weight="bold" font-style="normal" text-anchor="middle" fill="#111" font-family='"Liberation Sans", sans-serif' textLength="21.0" lengthAdjust="spacingAndGlyphs" >800</text>
<text x="558.7" y="687.9" font-size="11.6" font-weight="bold" font-style="normal" text-anchor="middle" fill="#111" font-family='"Liberation Sans", sans-serif' textLength="22.3" lengthAdjust="spacingAndGlyphs" >1.55</text>
<text x="594.2" y="418.2" font-size="12.0" font-weight="bold" font-style="normal" text-anchor="middle" fill="#111" font-family='"Liberation Sans", sans-serif' textLength="21.0" lengthAdjust="spacingAndGlyphs" >775</text>
<text x="594.2" y="687.9" font-size="11.6" font-weight="bold" font-style="normal" text-anchor="middle" fill="#111" font-family='"Liberation Sans", sans-serif' textLength="14.0" lengthAdjust="spacingAndGlyphs" >1.6</text>
<text x="629.6" y="418.2" font-size="12.0" font-weight="bold" font-style="normal" text-anchor="middle" fill="#111" font-family='"Liberation Sans", sans-serif' textLength="21.0" lengthAdjust="spacingAndGlyphs" >750</text>
<text x="629.6" y="687.9" font-size="11.6" font-weight="bold" font-style="normal" text-anchor="middle" fill="#111" font-family='"Liberation Sans", sans-serif' textLength="22.3" lengthAdjust="spacingAndGlyphs" >1.66</text>
<text x="665.1" y="418.2" font-size="12.0" font-weight="bold" font-style="normal" text-anchor="middle" fill="#111" font-family='"Liberation Sans", sans-serif' textLength="21.0" lengthAdjust="spacingAndGlyphs" >725</text>
<text x="665.1" y="687.9" font-size="11.6" font-weight="bold" font-style="normal" text-anchor="middle" fill="#111" font-family='"Liberation Sans", sans-serif' textLength="22.3" lengthAdjust="spacingAndGlyphs" >1.71</text>
<text x="700.5" y="418.2" font-size="12.0" font-weight="bold" font-style="normal" text-anchor="middle" fill="#111" font-family='"Liberation Sans", sans-serif' textLength="21.0" lengthAdjust="spacingAndGlyphs" >700</text>
<text x="700.5" y="687.9" font-size="11.6" font-weight="bold" font-style="normal" text-anchor="middle" fill="#111" font-family='"Liberation Sans", sans-serif' textLength="22.3" lengthAdjust="spacingAndGlyphs" >1.77</text>
<text x="331.4" y="431.1" font-size="11.5" font-weight="bold" font-style="normal" text-anchor="end" fill="#111" font-family='"Liberation Sans", sans-serif' textLength="18.3" lengthAdjust="spacingAndGlyphs" >0.6</text>
<text x="331.4" y="453.8" font-size="11.5" font-weight="bold" font-style="normal" text-anchor="end" fill="#111" font-family='"Liberation Sans", sans-serif' textLength="18.3" lengthAdjust="spacingAndGlyphs" >0.4</text>
<text x="331.4" y="476.5" font-size="11.5" font-weight="bold" font-style="normal" text-anchor="end" fill="#111" font-family='"Liberation Sans", sans-serif' textLength="18.3" lengthAdjust="spacingAndGlyphs" >0.2</text>
<text x="331.4" y="493.0" font-size="11.5" font-weight="bold" font-style="normal" text-anchor="end" fill="#111" font-family='"Liberation Sans", sans-serif' textLength="18.3" lengthAdjust="spacingAndGlyphs" >0.6</text>
<text x="331.4" y="515.7" font-size="11.5" font-weight="bold" font-style="normal" text-anchor="end" fill="#111" font-family='"Liberation Sans", sans-serif' textLength="18.3" lengthAdjust="spacingAndGlyphs" >0.4</text>
<text x="331.4" y="538.4" font-size="11.5" font-weight="bold" font-style="normal" text-anchor="end" fill="#111" font-family='"Liberation Sans", sans-serif' textLength="18.3" lengthAdjust="spacingAndGlyphs" >0.2</text>
<text x="331.4" y="554.0" font-size="11.5" font-weight="bold" font-style="normal" text-anchor="end" fill="#111" font-family='"Liberation Sans", sans-serif' textLength="18.3" lengthAdjust="spacingAndGlyphs" >0.6</text>
<text x="331.4" y="576.7" font-size="11.5" font-weight="bold" font-style="normal" text-anchor="end" fill="#111" font-family='"Liberation Sans", sans-serif' textLength="18.3" lengthAdjust="spacingAndGlyphs" >0.4</text>
<text x="331.4" y="599.4" font-size="11.5" font-weight="bold" font-style="normal" text-anchor="end" fill="#111" font-family='"Liberation Sans", sans-serif' textLength="18.3" lengthAdjust="spacingAndGlyphs" >0.2</text>
<text x="331.4" y="615.9" font-size="11.5" font-weight="bold" font-style="normal" text-anchor="end" fill="#111" font-family='"Liberation Sans", sans-serif' textLength="18.3" lengthAdjust="spacingAndGlyphs" >0.6</text>
<text x="331.4" y="638.6" font-size="11.5" font-weight="bold" font-style="normal" text-anchor="end" fill="#111" font-family='"Liberation Sans", sans-serif' textLength="18.3" lengthAdjust="spacingAndGlyphs" >0.4</text>
<text x="331.4" y="661.3" font-size="11.5" font-weight="bold" font-style="normal" text-anchor="end" fill="#111" font-family='"Liberation Sans", sans-serif' textLength="18.3" lengthAdjust="spacingAndGlyphs" >0.2</text>
<text x="345.0" y="443.0" font-size="11.5" font-weight="bold" font-style="normal" text-anchor="start" fill="#111" font-family='"Liberation Sans", sans-serif' textLength="42.4" lengthAdjust="spacingAndGlyphs" >500 mV</text>
<text x="345.0" y="504.9" font-size="11.5" font-weight="bold" font-style="normal" text-anchor="start" fill="#111" font-family='"Liberation Sans", sans-serif' textLength="42.4" lengthAdjust="spacingAndGlyphs" >400 mV</text>
<text x="345.0" y="565.9" font-size="11.5" font-weight="bold" font-style="normal" text-anchor="start" fill="#111" font-family='"Liberation Sans", sans-serif' textLength="42.4" lengthAdjust="spacingAndGlyphs" >300 mV</text>
<text x="345.0" y="627.8" font-size="11.5" font-weight="bold" font-style="normal" text-anchor="start" fill="#111" font-family='"Liberation Sans", sans-serif' textLength="42.4" lengthAdjust="spacingAndGlyphs" >200 mV</text>
<text x="525.9" y="398.8" font-size="11.8" font-weight="bold" font-style="normal" text-anchor="middle" fill="#111" font-family='"Liberation Sans", sans-serif' textLength="94.0" lengthAdjust="spacingAndGlyphs" >Wavelength (nm)</text>
<text x="525.9" y="703.9" font-size="11.8" font-weight="bold" font-style="normal" text-anchor="middle" fill="#111" font-family='"Liberation Sans", sans-serif' textLength="64.3" lengthAdjust="spacingAndGlyphs" >Energy (eV)</text>
<text transform="translate(303.2,548.5) rotate(-90)" x="0" y="0" font-size="13.5" font-weight="bold" text-anchor="middle" fill="#111" font-family='"Liberation Sans", sans-serif' textLength="119" lengthAdjust="spacingAndGlyphs">Photocurrent (nA)</text>
</svg></body></html>
